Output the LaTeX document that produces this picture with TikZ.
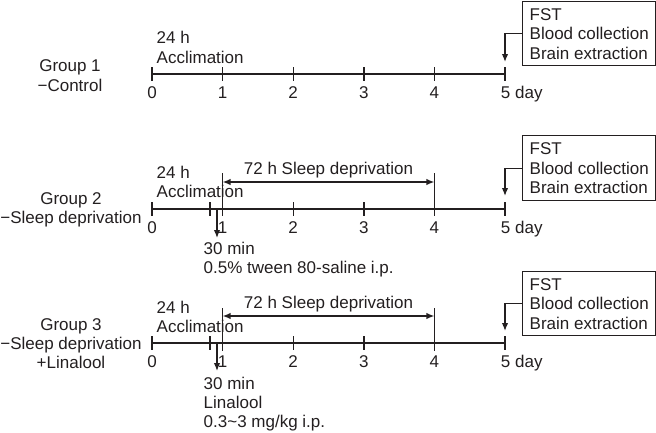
\documentclass[tikz,border=0pt]{standalone}
\usepackage{fontspec}
\setmainfont{Liberation Sans}
\usetikzlibrary{arrows.meta,calc}
\definecolor{ink}{RGB}{35,31,32}
\begin{document}
\begin{tikzpicture}[x=1pt,y=-1pt,line width=1.4pt,draw=ink]
\tikzset{
  lbl/.style={inner sep=0pt,anchor=base,font=\fontsize{17}{19.5}\selectfont,text=ink},
  lblw/.style={lbl,anchor=base west},
  infobox/.style={draw=ink,line width=1.4pt,align=left,inner xsep=7pt,inner ysep=0pt,
    minimum width=133pt,anchor=north west,font=\fontsize{17}{19.5}\selectfont,text=ink},
  tipend/.style={-{Latex[length=8pt,width=6.5pt]}},
  twotip/.style={{Latex[length=8pt,width=6.5pt]}-{Latex[length=8pt,width=6.5pt]}},
}
\useasboundingbox (0,0) rectangle (656,432);

% ---------- coordinates of ticks ----------
\foreach \g/\L in {1/74,2/209,3/343}{
  \foreach \i in {0,...,5}{
    \coordinate (g\g t\i) at ({152+70.6*\i},\L);
  }
}

% ---------- Group 1 ----------
\node[lbl] (g1a) at (70,71) {Group 1};
\node[lbl] (g1b) at (70,91) {−Control};
\draw (g1t0) -- (g1t5);
\foreach \i in {0,...,5}{
  \draw ($(g1t\i)+(0,-7)$) -- ($(g1t\i)+(0,7)$);
}
\foreach \i in {0,...,4}{
  \node[lbl] (g1n\i) at ($(g1t\i)+(0,24.5)$) {\i};
}
\node[lblw] (g1n5) at ($(g1t5)+(-4.73,24.5)$) {5 day};
\node[lblw] (g1h) at (156,43) {24 h};
\node[lblw] (g1acc) at (156,63) {Acclimation};
\node[infobox,minimum height=64pt] (b1) at (522,1) {FST\\Blood collection\\Brain extraction};
\coordinate (g1arr) at ($(g1t5)+(0,-12)$);
\draw[tipend] (b1.west) -| (g1arr);

% ---------- Group 2 ----------
\node[lbl] (g2a) at (71,204) {Group 2};
\node[lbl] (g2b) at (71,223) {−Sleep deprivation};
\draw (g2t0) -- (g2t5);
\foreach \i in {0,2,3,5}{
  \draw ($(g2t\i)+(0,-7)$) -- ($(g2t\i)+(0,7)$);
}
\foreach \i in {1,4}{
  \draw ($(g2t\i)+(0,-36)$) -- ($(g2t\i)+(0,7)$);
  \coordinate (g2s\i) at ($(g2t\i)+(0,-27)$);
}
\coordinate (g2pre) at (210,209);
\draw ($(g2pre)+(0,-7)$) -- ($(g2pre)+(0,7)$);
\draw[twotip] (g2s1) -- (g2s4);
\node[lbl] (g2sd) at ($(g2s1)!0.5!(g2s4)+(0,-8)$) {72 h Sleep deprivation};
\foreach \i in {0,...,4}{
  \node[lbl] (g2n\i) at ($(g2t\i)+(0,24.5)$) {\i};
}
\node[lblw] (g2n5) at ($(g2t5)+(-4.73,24.5)$) {5 day};
\node[lblw] (g2h) at (156,178) {24 h};
\node[lblw] (g2acc) at (156,197) {Acclimation};
\coordinate (g2inj) at (217,209);
\coordinate (g2injend) at (217,238);
\draw[tipend] (g2inj) -- (g2injend);
\node[lblw] (g2m) at (203,254) {30 min};
\node[lblw] (g2d) at (203,273) {0.5\% tween 80-saline i.p.};
\node[infobox,minimum height=65pt] (b2) at (522,135) {FST\\Blood collection\\Brain extraction};
\coordinate (g2arr) at ($(g2t5)+(0,-13)$);
\draw[tipend] (b2.west) -| (g2arr);

% ---------- Group 3 ----------
\node[lbl] (g3a) at (71,330) {Group 3};
\node[lbl] (g3b) at (71,349) {−Sleep deprivation};
\node[lbl] (g3c) at (71,368) {+Linalool};
\draw (g3t0) -- (g3t5);
\foreach \i in {0,2,3,5}{
  \draw ($(g3t\i)+(0,-7)$) -- ($(g3t\i)+(0,7)$);
}
\foreach \i in {1,4}{
  \draw ($(g3t\i)+(0,-35)$) -- ($(g3t\i)+(0,8)$);
  \coordinate (g3s\i) at ($(g3t\i)+(0,-27)$);
}
\coordinate (g3pre) at (210,343);
\draw ($(g3pre)+(0,-7)$) -- ($(g3pre)+(0,7)$);
\draw[twotip] (g3s1) -- (g3s4);
\node[lbl] (g3sd) at ($(g3s1)!0.5!(g3s4)+(0,-8)$) {72 h Sleep deprivation};
\foreach \i in {0,...,4}{
  \node[lbl] (g3n\i) at ($(g3t\i)+(0,24.5)$) {\i};
}
\node[lblw] (g3n5) at ($(g3t5)+(-4.73,24.5)$) {5 day};
\node[lblw] (g3h) at (156,313) {24 h};
\node[lblw] (g3acc) at (156,332) {Acclimation};
\coordinate (g3inj) at (217,343);
\coordinate (g3injend) at (217,371);
\draw[tipend] (g3inj) -- (g3injend);
\node[lblw] (g3m) at (203,389) {30 min};
\node[lblw] (g3l) at (203,408) {Linalool};
\node[lblw] (g3d) at (203,427) {0.3\textasciitilde 3 mg/kg i.p.};
\node[infobox,minimum height=64pt] (b3) at (522,271) {FST\\Blood collection\\Brain extraction};
\coordinate (g3arr) at ($(g3t5)+(0,-12)$);
\draw[tipend] (b3.west) -| (g3arr);
\end{tikzpicture}
\end{document}
